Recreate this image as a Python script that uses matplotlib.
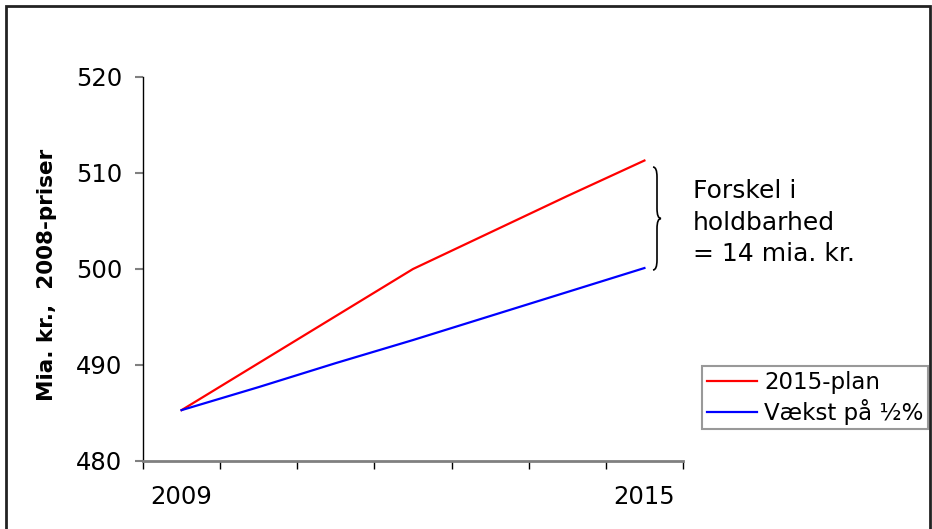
import matplotlib
matplotlib.use('Agg')
import matplotlib.pyplot as plt
from matplotlib.path import Path
from matplotlib.patches import PathPatch, Rectangle

# data (mia. kr., 2008-priser)
years = ['2009', '2010', '2011', '2012', '2013', '2014', '2015']
plan_2015 = [485.3, 490.2, 495.1, 500.0, 503.8, 507.6, 511.3]
vaekst_halv = [485.3, 487.7, 490.2, 492.6, 495.1, 497.6, 500.1]

W, H = 932, 529
fig = plt.figure(figsize=(W / 100, H / 100), dpi=100)
ax = fig.add_axes([143 / W, 1 - 461 / H, 540 / W, 384 / H])

x = list(range(len(years)))
ax.plot(x, plan_2015, color='#ff0000', lw=1.6, label='2015-plan')
ax.plot(x, vaekst_halv, color='#0000ff', lw=1.6, label='Vækst på ½%')

ax.set_xlim(-0.5, len(years) - 0.5)
ax.set_ylim(480, 520)
ax.set_yticks([480, 490, 500, 510, 520])

# kategori-akse: labels kun paa foerste og sidste aar
ax.set_xticks([0, len(years) - 1])
ax.set_xticklabels([years[0], years[-1]])
ax.set_xticks([i - 0.5 for i in range(len(years) + 1)], minor=True)
ax.tick_params(axis='x', which='major', length=0, pad=17, labelsize=17.5)
ax.tick_params(axis='x', which='minor', length=6, color='black', width=1)
ax.tick_params(axis='y', length=6, color='gray', width=1.5, pad=9, labelsize=17.5)

for s in ['top', 'right']:
    ax.spines[s].set_visible(False)
ax.spines['left'].set_color('black')
ax.spines['left'].set_linewidth(1)
ax.spines['bottom'].set_color('gray')
ax.spines['bottom'].set_linewidth(2)

fig.text(47 / W, 1 - 275 / H, 'Mia. kr.,  2008-priser', rotation=90,
         fontsize=15.5, fontweight='bold', ha='center', va='center')


# kroelleparentes mellem de to linjer
def fx(px):
    return px / W


def fy(py):
    return 1 - py / H


x0, top, bot = 653, 167, 270
mid = (top + bot) / 2
w = 4
verts = [
    (x0, top), (x0 + w, top), (x0 + w, top + 10),
    (x0 + w, mid - 10), (x0 + w, mid), (x0 + 2 * w, mid),
    (x0 + w, mid), (x0 + w, mid + 10),
    (x0 + w, bot - 10), (x0 + w, bot), (x0, bot),
]
codes = [Path.MOVETO, Path.CURVE3, Path.CURVE3,
         Path.LINETO, Path.CURVE3, Path.CURVE3,
         Path.CURVE3, Path.CURVE3,
         Path.LINETO, Path.CURVE3, Path.CURVE3]
verts = [(fx(a), fy(b)) for a, b in verts]
fig.add_artist(PathPatch(Path(verts, codes), transform=fig.transFigure,
                         fill=False, lw=1.2, edgecolor='black'))

fig.text(693 / W, 1 - 179 / H, 'Forskel i\nholdbarhed\n= 14 mia. kr.',
         fontsize=18, ha='left', va='top', linespacing=1.4)

leg = fig.legend(loc='upper left', bbox_to_anchor=(702 / W, 1 - 366 / H),
                 fontsize=16.5, frameon=True, fancybox=False, handlelength=2.2,
                 borderpad=0.2, labelspacing=0.22, handletextpad=0.3,
                 borderaxespad=0)
leg.get_frame().set_edgecolor('gray')
leg.get_frame().set_linewidth(1.5)

# ramme om hele figuren
fig.add_artist(Rectangle((6 / W, -0.05), 924 / W, 1.05 - 6 / H,
                         transform=fig.transFigure, fill=False,
                         edgecolor='#222222', lw=2))

fig.savefig('out.png', dpi=100)
